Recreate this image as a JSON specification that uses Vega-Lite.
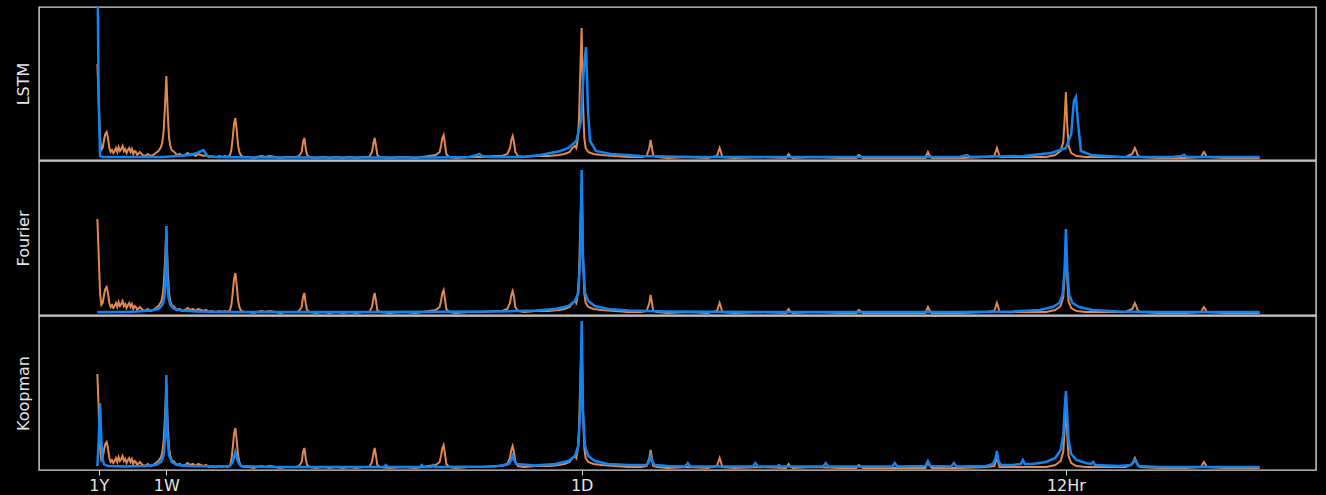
{
  "$schema": "https://vega.github.io/schema/vega-lite/v6.json",
  "background": "#000000",
  "padding": {"left": 14, "top": 6, "right": 10, "bottom": 5},
  "spacing": -1.5,
  "config": {
    "view": {"stroke": "#d8d8d8", "strokeWidth": 1.4},
    "font": "DejaVu Sans",
    "axis": {"grid": false, "labelColor": "#e6e6e6", "titleColor": "#e6e6e6", "labelFont": "DejaVu Sans", "titleFont": "DejaVu Sans"}
  },
  "datasets": {
    "truth": [
      {"f":0,"p":96},{"f":1,"p":60},{"f":2,"p":22},{"f":3,"p":10},{"f":4,"p":12},{"f":5,"p":20},{"f":6,"p":26},{"f":7,"p":28},{"f":8,"p":22},{"f":9,"p":12},{"f":10,"p":8},{"f":11,"p":10},{"f":12,"p":7},{"f":13,"p":9},{"f":14,"p":12},{"f":15,"p":8},{"f":16,"p":13},{"f":17,"p":9},{"f":18,"p":11},{"f":19,"p":14},{"f":20,"p":9},{"f":21,"p":11},{"f":22,"p":7},{"f":23,"p":10},{"f":24,"p":12},{"f":25,"p":8},{"f":26,"p":11},{"f":27,"p":6},{"f":28,"p":9},{"f":29,"p":8},{"f":30,"p":5},{"f":32,"p":8},{"f":34,"p":5},{"f":36,"p":4},{"f":38,"p":6},{"f":40,"p":4},{"f":42,"p":5},{"f":44,"p":7},{"f":46,"p":9},{"f":48,"p":13},{"f":49,"p":18},{"f":50,"p":30},{"f":51,"p":55},{"f":52,"p":84},{"f":53,"p":48},{"f":54,"p":22},{"f":55,"p":14},{"f":56,"p":10},{"f":58,"p":8},{"f":60,"p":5},{"f":62,"p":6},{"f":64,"p":4},{"f":66,"p":5},{"f":68,"p":7},{"f":70,"p":5},{"f":72,"p":6},{"f":74,"p":4},{"f":76,"p":6},{"f":78,"p":5},{"f":80,"p":4},{"f":82,"p":5},{"f":84,"p":3},{"f":86,"p":4},{"f":88,"p":3},{"f":90,"p":3},{"f":92,"p":4},{"f":94,"p":3},{"f":96,"p":4},{"f":98,"p":3},{"f":100,"p":5},{"f":101,"p":10},{"f":102,"p":22},{"f":103,"p":36},{"f":104,"p":42},{"f":105,"p":30},{"f":106,"p":15},{"f":107,"p":8},{"f":108,"p":5},{"f":110,"p":3},{"f":114,"p":3},{"f":118,"p":2},{"f":120,"p":3},{"f":124,"p":4},{"f":126,"p":3},{"f":130,"p":4},{"f":134,"p":3},{"f":138,"p":2},{"f":142,"p":3},{"f":146,"p":3},{"f":150,"p":3},{"f":152,"p":4},{"f":154,"p":8},{"f":155,"p":18},{"f":156,"p":22},{"f":157,"p":12},{"f":158,"p":5},{"f":160,"p":3},{"f":165,"p":2},{"f":170,"p":3},{"f":175,"p":2},{"f":180,"p":3},{"f":185,"p":2},{"f":190,"p":3},{"f":195,"p":2},{"f":200,"p":3},{"f":205,"p":3},{"f":207,"p":8},{"f":208,"p":16},{"f":209,"p":22},{"f":210,"p":14},{"f":211,"p":5},{"f":213,"p":3},{"f":220,"p":2},{"f":230,"p":3},{"f":240,"p":2},{"f":245,"p":3},{"f":250,"p":4},{"f":255,"p":5},{"f":258,"p":8},{"f":259,"p":14},{"f":260,"p":22},{"f":261,"p":25},{"f":262,"p":16},{"f":263,"p":6},{"f":265,"p":3},{"f":270,"p":2},{"f":280,"p":3},{"f":290,"p":3},{"f":300,"p":4},{"f":305,"p":4},{"f":309,"p":6},{"f":311,"p":12},{"f":312,"p":20},{"f":313,"p":24},{"f":314,"p":18},{"f":315,"p":8},{"f":317,"p":4},{"f":322,"p":3},{"f":330,"p":4},{"f":340,"p":4},{"f":348,"p":5},{"f":352,"p":6},{"f":356,"p":8},{"f":358,"p":12},{"f":360,"p":14},{"f":361,"p":12},{"f":362,"p":20},{"f":363,"p":40},{"f":364,"p":90},{"f":365,"p":132},{"f":366,"p":60},{"f":367,"p":22},{"f":368,"p":12},{"f":370,"p":8},{"f":374,"p":6},{"f":380,"p":5},{"f":390,"p":4},{"f":400,"p":3},{"f":410,"p":3},{"f":414,"p":4},{"f":416,"p":12},{"f":417,"p":20},{"f":418,"p":12},{"f":419,"p":4},{"f":422,"p":3},{"f":430,"p":2},{"f":445,"p":3},{"f":460,"p":2},{"f":467,"p":4},{"f":468,"p":8},{"f":469,"p":12},{"f":470,"p":8},{"f":471,"p":3},{"f":480,"p":2},{"f":500,"p":3},{"f":519,"p":2},{"f":520,"p":4},{"f":521,"p":6},{"f":522,"p":4},{"f":524,"p":2},{"f":540,"p":3},{"f":560,"p":2},{"f":572,"p":2},{"f":573,"p":4},{"f":574,"p":5},{"f":575,"p":4},{"f":577,"p":2},{"f":600,"p":2},{"f":624,"p":2},{"f":625,"p":5},{"f":626,"p":8},{"f":627,"p":5},{"f":629,"p":2},{"f":650,"p":2},{"f":670,"p":3},{"f":676,"p":4},{"f":677,"p":8},{"f":678,"p":12},{"f":679,"p":8},{"f":680,"p":3},{"f":700,"p":3},{"f":715,"p":3},{"f":722,"p":5},{"f":726,"p":9},{"f":728,"p":18},{"f":729,"p":40},{"f":730,"p":68},{"f":731,"p":35},{"f":732,"p":14},{"f":734,"p":7},{"f":738,"p":4},{"f":745,"p":3},{"f":760,"p":3},{"f":775,"p":3},{"f":780,"p":6},{"f":781,"p":9},{"f":782,"p":12},{"f":783,"p":9},{"f":784,"p":5},{"f":786,"p":3},{"f":800,"p":2},{"f":820,"p":2},{"f":832,"p":3},{"f":833,"p":6},{"f":834,"p":8},{"f":835,"p":6},{"f":836,"p":3},{"f":850,"p":2},{"f":876,"p":2}
    ],
    "lstm": [
      {"f":0,"p":200},{"f":1,"p":60},{"f":2,"p":4},{"f":4,"p":3},{"f":10,"p":3},{"f":20,"p":3},{"f":30,"p":3},{"f":40,"p":3},{"f":50,"p":3},{"f":60,"p":4},{"f":70,"p":5},{"f":75,"p":7},{"f":80,"p":10},{"f":81,"p":8},{"f":83,"p":4},{"f":90,"p":3},{"f":120,"p":2.5},{"f":160,"p":2.5},{"f":200,"p":2.5},{"f":250,"p":2.5},{"f":280,"p":3},{"f":286,"p":5},{"f":288,"p":6},{"f":290,"p":4},{"f":295,"p":3},{"f":320,"p":3},{"f":334,"p":5},{"f":349,"p":9},{"f":355,"p":12},{"f":361,"p":19},{"f":364.5,"p":39},{"f":366.7,"p":92},{"f":368.3,"p":113},{"f":369.8,"p":49},{"f":371.3,"p":19},{"f":375.8,"p":9},{"f":387,"p":6},{"f":410,"p":4},{"f":450,"p":3},{"f":500,"p":3},{"f":600,"p":3},{"f":650,"p":3},{"f":655.5,"p":5},{"f":658,"p":3},{"f":698,"p":4},{"f":719,"p":7},{"f":730,"p":12},{"f":734,"p":26},{"f":736,"p":59},{"f":737.5,"p":63},{"f":739,"p":39},{"f":741.3,"p":9},{"f":749,"p":5},{"f":772,"p":3},{"f":810,"p":3},{"f":817,"p":4},{"f":819,"p":5},{"f":821,"p":3},{"f":850,"p":3},{"f":876,"p":3}
    ],
    "fourier": [
      {"f":0,"p":3},{"f":10,"p":3},{"f":20,"p":3},{"f":30,"p":3.5},{"f":40,"p":4.5},{"f":46,"p":6},{"f":49,"p":10},{"f":50.5,"p":18},{"f":51.3,"p":35},{"f":52,"p":89},{"f":52.7,"p":35},{"f":53.5,"p":18},{"f":55,"p":10},{"f":58,"p":6},{"f":64,"p":4.5},{"f":75,"p":3.5},{"f":100,"p":3},{"f":200,"p":3},{"f":300,"p":3.5},{"f":330,"p":4.5},{"f":345,"p":6},{"f":355,"p":9},{"f":360,"p":14},{"f":362.5,"p":22},{"f":364,"p":58},{"f":365,"p":145},{"f":366,"p":58},{"f":367.5,"p":22},{"f":370,"p":14},{"f":375,"p":9},{"f":385,"p":6},{"f":400,"p":4.5},{"f":430,"p":3.5},{"f":500,"p":3},{"f":650,"p":3},{"f":690,"p":3.5},{"f":710,"p":5},{"f":720,"p":8},{"f":725,"p":12},{"f":727.5,"p":20},{"f":729,"p":45},{"f":730,"p":86},{"f":731,"p":45},{"f":732.5,"p":20},{"f":735,"p":12},{"f":740,"p":8},{"f":750,"p":5},{"f":770,"p":3.5},{"f":800,"p":3},{"f":876,"p":3}
    ],
    "koopman": [
      {"f":0,"p":4},{"f":1,"p":30},{"f":2,"p":67},{"f":3,"p":30},{"f":4,"p":10},{"f":5,"p":6},{"f":8,"p":4},{"f":20,"p":3.5},{"f":35,"p":4},{"f":44,"p":5},{"f":48,"p":8},{"f":50,"p":15},{"f":51.2,"p":35},{"f":52,"p":95},{"f":52.8,"p":35},{"f":54,"p":15},{"f":56,"p":8},{"f":60,"p":5},{"f":70,"p":4},{"f":90,"p":3.5},{"f":100,"p":4},{"f":102,"p":8},{"f":104,"p":18},{"f":106,"p":8},{"f":108,"p":4},{"f":130,"p":3},{"f":190,"p":3},{"f":216,"p":3},{"f":217.5,"p":5},{"f":219,"p":3},{"f":243,"p":3},{"f":244.6,"p":5},{"f":246,"p":3},{"f":251.5,"p":3},{"f":253,"p":5},{"f":254.5,"p":3},{"f":300,"p":3.5},{"f":310,"p":6},{"f":312,"p":10},{"f":313,"p":14},{"f":314,"p":10},{"f":316,"p":6},{"f":330,"p":4.5},{"f":345,"p":6},{"f":355,"p":9},{"f":360,"p":14},{"f":362.5,"p":24},{"f":364,"p":60},{"f":365,"p":149},{"f":366,"p":60},{"f":367.5,"p":24},{"f":370,"p":14},{"f":375,"p":9},{"f":385,"p":6},{"f":400,"p":5},{"f":414,"p":5},{"f":416,"p":9},{"f":417,"p":14},{"f":418,"p":9},{"f":420,"p":5},{"f":430,"p":4},{"f":443,"p":3.5},{"f":445,"p":7},{"f":447,"p":3.5},{"f":494,"p":3.5},{"f":496,"p":7},{"f":498,"p":3.5},{"f":512,"p":3.5},{"f":513.7,"p":5},{"f":515,"p":3.5},{"f":547,"p":3.5},{"f":549,"p":7},{"f":551,"p":3.5},{"f":599,"p":3.5},{"f":601,"p":7},{"f":603,"p":3.5},{"f":624,"p":4},{"f":626,"p":9},{"f":628,"p":4},{"f":643.5,"p":3.5},{"f":645.6,"p":7},{"f":647.5,"p":3.5},{"f":670,"p":4},{"f":675,"p":6},{"f":677,"p":12},{"f":678,"p":19},{"f":679,"p":10},{"f":681,"p":5},{"f":690,"p":5},{"f":696,"p":6},{"f":697.6,"p":10},{"f":699,"p":6},{"f":705,"p":6},{"f":715,"p":8},{"f":722,"p":12},{"f":726,"p":20},{"f":728,"p":35},{"f":729,"p":60},{"f":730,"p":79},{"f":731,"p":55},{"f":732,"p":30},{"f":734,"p":16},{"f":738,"p":10},{"f":745,"p":7},{"f":749,"p":6},{"f":750.5,"p":8},{"f":752,"p":5},{"f":770,"p":4},{"f":779,"p":5},{"f":781,"p":8},{"f":782,"p":10},{"f":783,"p":8},{"f":785,"p":4},{"f":800,"p":3},{"f":876,"p":3}
    ]
  },
  "vconcat": [
    {
      "width": 1277, "height": 153,
      "layer": [
        {"data": {"name": "truth"}, "mark": {"type": "line", "color": "#e2884d", "strokeWidth": 2, "clip": true},
         "encoding": {"x": {"field": "f", "type": "quantitative", "scale": {"domain": [-44, 918.5], "nice": false, "zero": false}, "axis": null},
                      "y": {"field": "p", "type": "quantitative", "scale": {"domain": [0, 153], "nice": false, "zero": false},
                            "axis": {"title": "LSTM", "labels": false, "ticks": false, "domain": false, "titleFontSize": 16, "titleFontWeight": "normal", "titlePadding": 8}}}},
        {"data": {"name": "lstm"}, "mark": {"type": "line", "color": "#0f84f2", "strokeWidth": 2.5, "clip": true},
         "encoding": {"x": {"field": "f", "type": "quantitative"}, "y": {"field": "p", "type": "quantitative"}}}
      ]
    },
    {
      "width": 1277, "height": 154,
      "layer": [
        {"data": {"name": "truth"}, "mark": {"type": "line", "color": "#e2884d", "strokeWidth": 2, "clip": true},
         "encoding": {"x": {"field": "f", "type": "quantitative", "scale": {"domain": [-44, 918.5], "nice": false, "zero": false}, "axis": null},
                      "y": {"field": "p", "type": "quantitative", "scale": {"domain": [0, 154], "nice": false, "zero": false},
                            "axis": {"title": "Fourier", "labels": false, "ticks": false, "domain": false, "titleFontSize": 16, "titleFontWeight": "normal", "titlePadding": 8}}}},
        {"data": {"name": "fourier"}, "mark": {"type": "line", "color": "#0f84f2", "strokeWidth": 2.5, "clip": true},
         "encoding": {"x": {"field": "f", "type": "quantitative"}, "y": {"field": "p", "type": "quantitative"}}}
      ]
    },
    {
      "width": 1277, "height": 154,
      "layer": [
        {"data": {"name": "truth"}, "mark": {"type": "line", "color": "#e2884d", "strokeWidth": 2, "clip": true},
         "encoding": {"x": {"field": "f", "type": "quantitative", "scale": {"domain": [-44, 918.5], "nice": false, "zero": false},
                            "axis": {"title": null, "values": [1, 52, 365, 730], "labelExpr": "datum.value == 1 ? '1Y' : datum.value == 52 ? '1W' : datum.value == 365 ? '1D' : '12Hr'", "labelFontSize": 16, "tickSize": 5, "tickColor": "#d8d8d8", "domain": false, "labelPadding": 2, "labelFlush": false}},
                      "y": {"field": "p", "type": "quantitative", "scale": {"domain": [0, 154], "nice": false, "zero": false},
                            "axis": {"title": "Koopman", "labels": false, "ticks": false, "domain": false, "titleFontSize": 16, "titleFontWeight": "normal", "titlePadding": 8}}}},
        {"data": {"name": "koopman"}, "mark": {"type": "line", "color": "#0f84f2", "strokeWidth": 2.5, "clip": true},
         "encoding": {"x": {"field": "f", "type": "quantitative"}, "y": {"field": "p", "type": "quantitative"}}}
      ]
    }
  ]
}
